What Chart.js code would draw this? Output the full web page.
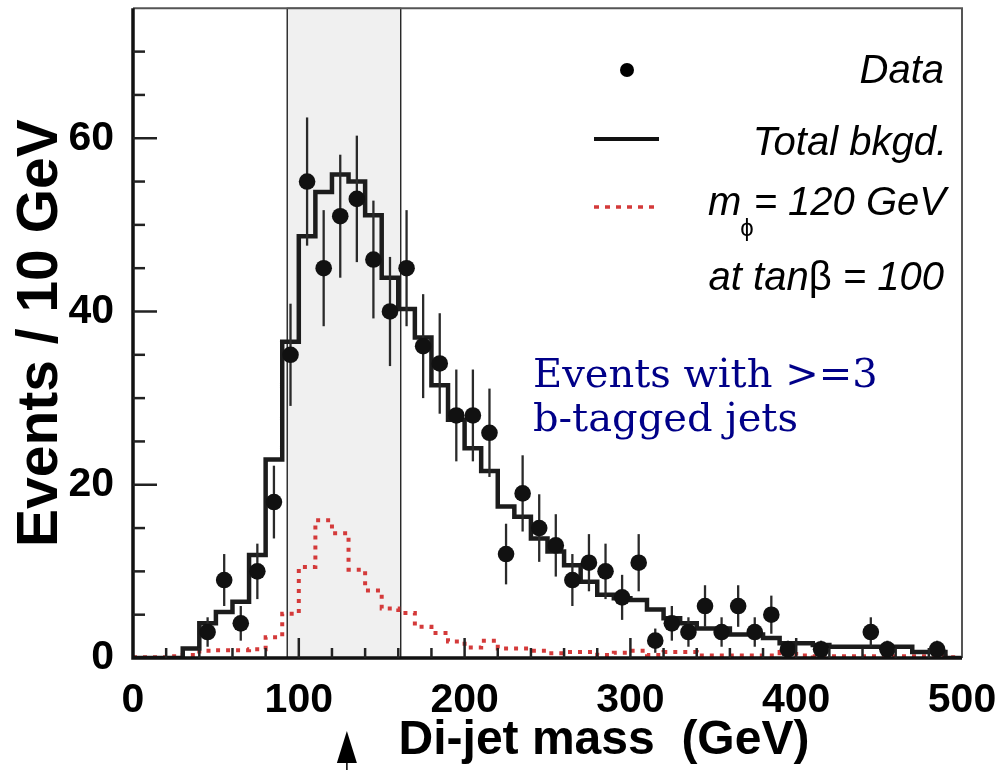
<!DOCTYPE html>
<html lang="en">
<head>
<meta charset="UTF-8">
<title>Di-jet mass, events with >=3 b-tagged jets</title>
<style>
  body { margin: 0; background: #fff; }
  canvas { display: block; }
</style>
</head>
<body>
<canvas id="massChart" width="997" height="770"></canvas>
<script src="https://cdn.jsdelivr.net/npm/chart.js"></script>
<script>
// 10 GeV bins, lower edges
const binLow = [0, 10, 20, 30, 40, 50, 60, 70, 80, 90,
  100, 110, 120, 130, 140, 150, 160, 170, 180, 190,
  200, 210, 220, 230, 240, 250, 260, 270, 280, 290,
  300, 310, 320, 330, 340, 350, 360, 370, 380, 390,
  400, 410, 420, 430, 440, 450, 460, 470, 480, 490];
const xMax = 500;

// total background (black histogram)
const bkgValues = [0, 0, 0, 1.1, 4.0, 5.3, 6.5, 11.9, 22.9, 36.5,
  48.7, 53.8, 55.8, 55.0, 51.1, 43.9, 40.3, 37.0, 31.5, 27.5,
  24.2, 21.6, 17.5, 16.3, 13.8, 12.3, 10.7, 8.8, 7.3, 6.9,
  6.7, 5.6, 4.6, 4.0, 3.4, 3.4, 2.7, 2.7, 2.3, 1.7,
  1.7, 1.5, 1.3, 1.3, 1.3, 1.3, 1.3, 0.7, 0.7, 0];

// signal m_phi = 120 GeV at tan(beta) = 100 (red dotted)
const signalValues = [0.1, 0.1, 0.2, 0.35, 0.85, 0.9, 0.9, 1.0, 2.4, 5.1,
  10.5, 15.9, 14.4, 10.2, 7.8, 5.7, 5.2, 3.6, 2.9, 1.9,
  1.2, 2.0, 1.1, 1.1, 0.85, 0.55, 0.7, 0.7, 0.35, 0.6,
  0.85, 0.35, 0.7, 0.7, 0.3, 0.3, 0.3, 0.3, 0.3, 0.7,
  0.3, 0.2, 0.2, 0.2, 0.2, 0.2, 0.2, 0.2, 0.2, 0.1];

// data points
const dataMass = [45, 55, 65, 75, 85, 95, 105, 115, 125, 135,
  145, 155, 165, 175, 185, 195, 205, 215, 225, 235,
  245, 255, 265, 275, 285, 295, 305, 315, 325, 335,
  345, 355, 365, 375, 385, 395, 415, 445, 455, 485];
const dataCounts = [3, 9, 4, 10, 18, 35, 55, 45, 51, 53,
  46, 40, 45, 36, 34, 28, 28, 26, 12, 19,
  15, 13, 9, 11, 10, 7, 11, 2, 4, 3,
  6, 3, 6, 3, 5, 1, 1, 3, 1, 1];
const dataErrors = [1.7, 3.0, 2.0, 3.2, 4.2, 5.9, 7.4, 6.7, 7.1, 7.3,
  6.8, 6.3, 6.7, 6.0, 5.8, 5.3, 5.3, 5.1, 3.5, 4.4,
  3.9, 3.6, 3.0, 3.3, 3.2, 2.6, 3.3, 1.4, 2.0, 1.7,
  2.4, 1.7, 2.4, 1.7, 2.2, 1.0, 1.0, 1.7, 1.0, 1.0];

// mass window (shaded) and arrow
const massWindow = [93, 161.5];
const arrowMass = 129;

const xTickValues = [0, 100, 200, 300, 400, 500];
const yTickValues = [0, 20, 40, 60];
const yMax = 75;

const SANS = '"Liberation Sans", Arial, Helvetica, sans-serif';

function stepPoints(values) {
  const pts = binLow.map((x, i) => ({ x: x, y: values[i] }));
  pts.push({ x: xMax, y: values[values.length - 1] });
  return pts;
}

const decor = {
  id: 'decor',
  beforeDatasetsDraw(chart) {
    const { ctx, chartArea: a, scales: { x } } = chart;
    const x0 = x.getPixelForValue(massWindow[0]);
    const x1 = x.getPixelForValue(massWindow[1]);
    ctx.save();
    ctx.fillStyle = '#f0f0f0';
    ctx.fillRect(x0, a.top, x1 - x0, a.bottom - a.top);
    ctx.strokeStyle = '#000';
    ctx.lineWidth = 1.2;
    ctx.strokeRect(x0, a.top, x1 - x0, a.bottom - a.top);
    ctx.restore();
  },
  beforeDatasetDraw(chart, args) {
    if (args.index !== 0) return;
    // error bars under the data markers
    const { ctx, scales: { x, y } } = chart;
    ctx.save();
    ctx.strokeStyle = '#2a2a2a';
    ctx.lineWidth = 2.3;
    dataMass.forEach((m, i) => {
      const px = x.getPixelForValue(m);
      ctx.beginPath();
      ctx.moveTo(px, y.getPixelForValue(dataCounts[i] - dataErrors[i]));
      ctx.lineTo(px, y.getPixelForValue(dataCounts[i] + dataErrors[i]));
      ctx.stroke();
    });
    ctx.restore();
  },
  afterDatasetsDraw(chart) {
    const { ctx, chartArea: a, scales: { x, y } } = chart;
    ctx.save();
    // frame
    ctx.strokeStyle = '#555';
    ctx.lineWidth = 2;
    ctx.beginPath();
    ctx.moveTo(a.left, a.top); ctx.lineTo(a.right, a.top); ctx.lineTo(a.right, a.bottom);
    ctx.stroke();
    ctx.strokeStyle = '#111';
    ctx.lineWidth = 3.5;
    ctx.beginPath();
    ctx.moveTo(a.left, a.top); ctx.lineTo(a.left, a.bottom); ctx.lineTo(a.right, a.bottom);
    ctx.stroke();
    // inward ticks
    ctx.lineWidth = 2.5;
    ctx.strokeStyle = '#222';
    for (let v = 5; v < yMax; v += 5) {
      const py = y.getPixelForValue(v);
      const len = v % 20 === 0 ? 24 : 12;
      ctx.beginPath(); ctx.moveTo(a.left, py); ctx.lineTo(a.left + len, py); ctx.stroke();
    }
    for (let v = 20; v < xMax; v += 20) {
      const px = x.getPixelForValue(v);
      const len = v % 100 === 0 ? 20 : 10;
      ctx.beginPath(); ctx.moveTo(px, a.bottom); ctx.lineTo(px, a.bottom - len); ctx.stroke();
    }
    ctx.restore();
  },
  afterDraw(chart) {
    const { ctx, chartArea: a, scales: { x } } = chart;
    ctx.save();
    ctx.fillStyle = '#000';
    ctx.textBaseline = 'alphabetic';

    // x axis title
    ctx.font = 'bold 48px ' + SANS;
    ctx.textAlign = 'center';
    ctx.fillText('Di-jet mass  (GeV)', 604, 754);

    // arrow under the axis
    const ax = x.getPixelForValue(arrowMass);
    ctx.beginPath();
    ctx.moveTo(ax, 731); ctx.lineTo(ax + 10, 763); ctx.lineTo(ax - 10, 763); ctx.closePath();
    ctx.fill();
    ctx.lineWidth = 1.5;
    ctx.beginPath(); ctx.moveTo(ax, 760); ctx.lineTo(ax, 770); ctx.stroke();

    // legend
    const R = a.right - 16;
    ctx.textAlign = 'right';
    ctx.font = 'italic 40px ' + SANS;
    ctx.fillText('Data', R - 2, 83);
    ctx.beginPath(); ctx.arc(627, 70, 7, 0, Math.PI * 2); ctx.fill();

    ctx.fillText('Total bkgd.', R + 1, 155);
    ctx.strokeStyle = '#111';
    ctx.lineWidth = 4;
    ctx.beginPath(); ctx.moveTo(594, 139); ctx.lineTo(659, 139); ctx.stroke();

    const rest = '= 120 GeV';
    ctx.fillText(rest, R, 215);
    const wRest = ctx.measureText(rest).width;
    ctx.textAlign = 'left';
    ctx.font = '24px ' + SANS;
    const wPhi = ctx.measureText('\u03d5').width;
    ctx.fillText('\u03d5', R - wRest - wPhi, 236);
    ctx.textAlign = 'right';
    ctx.font = 'italic 40px ' + SANS;
    ctx.fillText('m', R - wRest - wPhi + 1, 215);
    ctx.strokeStyle = '#d43a3a';
    ctx.lineWidth = 3.5;
    ctx.setLineDash([5, 6]);
    ctx.beginPath(); ctx.moveTo(594, 207); ctx.lineTo(659, 207); ctx.stroke();
    ctx.setLineDash([]);

    const tail = ' = 100';
    ctx.fillText(tail, R - 2, 290);
    let cx = R - 2 - ctx.measureText(tail).width;
    ctx.font = '40px ' + SANS;
    ctx.fillText('\u03b2', cx, 290);
    cx -= ctx.measureText('\u03b2').width;
    ctx.font = 'italic 40px ' + SANS;
    ctx.fillText('at tan', cx, 290);

    // annotation
    ctx.textAlign = 'left';
    ctx.fillStyle = '#000088';
    ctx.font = '40px "DejaVu Serif", serif';
    ctx.fillText('Events with >=3', 533, 387);
    ctx.fillText('b-tagged jets', 533, 431);
    ctx.restore();
  }
};

new Chart(document.getElementById('massChart'), {
  type: 'scatter',
  data: {
    datasets: [
      {
        label: 'Data',
        data: dataMass.map((m, i) => ({ x: m, y: dataCounts[i] })),
        pointRadius: 8.3,
        pointBackgroundColor: '#111',
        pointBorderWidth: 0,
        order: 0
      },
      {
        type: 'line',
        label: 'Total bkgd.',
        data: stepPoints(bkgValues),
        stepped: true,
        borderColor: '#1c1c1c',
        borderWidth: 4.5,
        pointRadius: 0,
        fill: false,
        order: 1
      },
      {
        type: 'line',
        label: 'm = 120 GeV',
        data: stepPoints(signalValues),
        stepped: true,
        borderColor: '#d43a3a',
        borderWidth: 4,
        borderDash: [4, 6],
        pointRadius: 0,
        fill: false,
        order: 2
      }
    ]
  },
  options: {
    responsive: false,
    animation: false,
    layout: { padding: { top: 8, right: 35, left: 0, bottom: 0 } },
    plugins: { legend: { display: false }, tooltip: { enabled: false } },
    scales: {
      x: {
        type: 'linear',
        min: 0,
        max: xMax,
        grid: { display: false },
        border: { display: false },
        afterBuildTicks: s => { s.ticks = xTickValues.map(v => ({ value: v })); },
        afterFit: s => { s.height = 112; s.paddingLeft = 0; s.paddingRight = 0; },
        ticks: {
          font: { family: SANS, size: 41, weight: 'bold' },
          color: '#000',
          padding: 10,
          maxRotation: 0
        }
      },
      y: {
        min: 0,
        max: yMax,
        grid: { display: false },
        border: { display: false },
        afterBuildTicks: s => { s.ticks = yTickValues.map(v => ({ value: v })); },
        afterFit: s => { s.width = 133; s.paddingTop = 0; s.paddingBottom = 0; },
        ticks: {
          font: { family: SANS, size: 41, weight: 'bold' },
          color: '#000',
          padding: 11
        },
        title: {
          display: true,
          text: 'Events / 10 GeV',
          font: { family: SANS, size: 57, weight: 'bold' },
          color: '#000',
          padding: { top: 7, bottom: 0 }
        }
      }
    }
  },
  plugins: [decor]
});
</script>
</body>
</html>
